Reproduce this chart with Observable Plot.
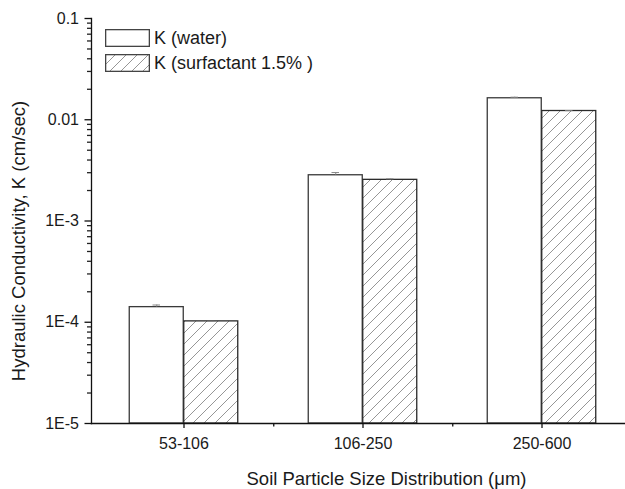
<!DOCTYPE html>
<html>
<head>
<meta charset="utf-8">
<script src="https://cdn.jsdelivr.net/npm/d3@7"></script>
<script src="https://cdn.jsdelivr.net/npm/@observablehq/plot@0.6"></script>
<style>
  body { margin: 0; background: #fff; overflow: hidden; }
  #wrap { position: relative; width: 625px; height: 489px; font-family: "Liberation Sans", Arial, sans-serif; color: #1a1a1a; }
  .leg { position: absolute; left: 105px; display: flex; align-items: center; }
  .leg svg { display: block; }
  .leg span { margin-left: 4px; font-size: 18px; line-height: 18px; }
</style>
</head>
<body>
<div id="wrap"></div>
<script>
// ---- data ----
const categories = ["53-106", "106-250", "250-600"];
const seriesNames = ["K (water)", "K (surfactant 1.5% )"];
const kWater = [1.41e-4, 2.83e-3, 0.0163];
const kSurf = [1.02e-4, 2.55e-3, 0.0122];
const errWater = [7e-6, 1.8e-4, 4e-4];
const errSurf = [0, 6e-5, 1e-4];
const yTicks = [1e-5, 1e-4, 1e-3, 0.01, 0.1];
const yTickLabels = ["1E-5", "1E-4", "1E-3", "0.01", "0.1"];
const xTitle = "Soil Particle Size Distribution (\u03BCm)";
const yTitle = "Hydraulic Conductivity, K (cm/sec)";

// ---- derived tables ----
const water = categories.map((c, i) => ({cat: c, v: kWater[i], e: errWater[i]}));
const surf = categories.map((c, i) => ({cat: c, v: kSurf[i], e: errSurf[i]}));
const yMinor = [];
for (let k = 0; k < yTicks.length - 1; k++) for (let m = 2; m <= 9; m++) yMinor.push(yTicks[k] * m);
const labelOf = new Map(yTicks.map((t, i) => [t, yTickLabels[i]]));

const W = 625, H = 489, ML = 91, MT = 18, MB = 66;
const band = (632 - 93.5) / categories.length; // band width in px
const barW = 54.5;
const outerInset = band / 2 - barW;
const capHalf = 4;
const font = "Liberation Sans, Arial, sans-serif";

const plot = Plot.plot({
  width: W,
  height: H,
  marginLeft: ML,
  marginRight: 0,
  marginTop: MT,
  marginBottom: MB,
  style: {fontFamily: font, color: "#1a1a1a", background: "white", overflow: "hidden"},
  x: {type: "band", domain: categories, range: [93.5, 632], padding: 0, axis: null},
  y: {type: "log", domain: [1e-5, 0.1], axis: null},
  marks: [
    Plot.barY(water, {x: "cat", y1: () => 1e-5, y2: "v", fill: "white", stroke: "#3a3a3a", strokeWidth: 1.3, insetLeft: outerInset, insetRight: band / 2}),
    Plot.barY(surf, {x: "cat", y1: () => 1e-5, y2: "v", fill: "url(#hatch)", stroke: "#2a2a2a", strokeWidth: 1.3, insetLeft: band / 2, insetRight: outerInset}),
    Plot.ruleX(water, {x: "cat", y1: "v", y2: d => d.v + d.e, dx: -barW / 2, stroke: "#888", strokeWidth: 1}),
    Plot.tickY(water, {x: "cat", y: d => d.v + d.e, dx: -barW / 2, insetLeft: band / 2 - capHalf, insetRight: band / 2 - capHalf, stroke: "#888", strokeWidth: 1}),
    Plot.ruleX(surf, {x: "cat", y1: "v", y2: d => d.v + d.e, dx: barW / 2, stroke: "#888", strokeWidth: 1}),
    Plot.tickY(surf, {x: "cat", y: d => d.v + d.e, dx: barW / 2, insetLeft: band / 2 - capHalf, insetRight: band / 2 - capHalf, stroke: "#888", strokeWidth: 1}),
    // axis lines
    Plot.frame({anchor: "left", stroke: "#111", strokeWidth: 1.3}),
    Plot.frame({anchor: "bottom", stroke: "#111", strokeWidth: 1.3}),
    // y axis minor ticks
    Plot.axisY(yMinor, {anchor: "left", tickSize: 4, tickFormat: () => "", stroke: "#222", strokeWidth: 1.3, label: null}),
    // y axis major ticks + labels
    Plot.axisY(yTicks, {anchor: "left", tickSize: 6.5, tickPadding: 6, tickFormat: d => labelOf.get(d), fontSize: 16, stroke: "#111", strokeWidth: 1.3, label: null}),
    // x axis
    Plot.axisX({anchor: "bottom", tickSize: 5, tickPadding: 9, fontSize: 16, stroke: "#111", strokeWidth: 1.3, label: null}),
    Plot.ruleX(categories.slice(0, -1), {x: d => d, dx: band / 2, y1: () => 1e-5, y2: () => 1e-5, insetBottom: -3.5, stroke: "#111", strokeWidth: 1.3}),
    // titles
    Plot.text([xTitle], {text: d => d, frameAnchor: "bottom", dx: 28, dy: 61, fontSize: 18.5, fill: "#1a1a1a"}),
    Plot.text([yTitle], {text: d => d, frameAnchor: "left", textAnchor: "middle", rotate: -90, dx: -72, dy: 20, fontSize: 18.5, fill: "#1a1a1a"})
  ]
});

// hatch pattern definition
const defs = d3.select(plot).insert("defs", ":first-child");
const pat = defs.append("pattern").attr("id", "hatch").attr("patternUnits", "userSpaceOnUse").attr("width", 11).attr("height", 11);
pat.append("rect").attr("width", 11).attr("height", 11).attr("fill", "white");
pat.append("path").attr("d", "M0,11L11,0M-2,2L2,-2M9,13L13,9").attr("stroke", "#8a8a8a").attr("stroke-width", 0.9);

const wrap = document.getElementById("wrap");
wrap.appendChild(plot);

// legend overlay
const legendTops = [29, 54];
seriesNames.forEach((name, i) => {
  const row = document.createElement("div");
  row.className = "leg";
  row.style.top = legendTops[i] + "px";
  const fill = i === 0 ? "white" : "url(#hatch)";
  row.innerHTML = `<svg width="45" height="18"><rect x="0.65" y="0.65" width="43.7" height="16.7" fill="${fill}" stroke="#444" stroke-width="1.3"/></svg><span>${name}</span>`;
  wrap.appendChild(row);
});
</script>
</body>
</html>
